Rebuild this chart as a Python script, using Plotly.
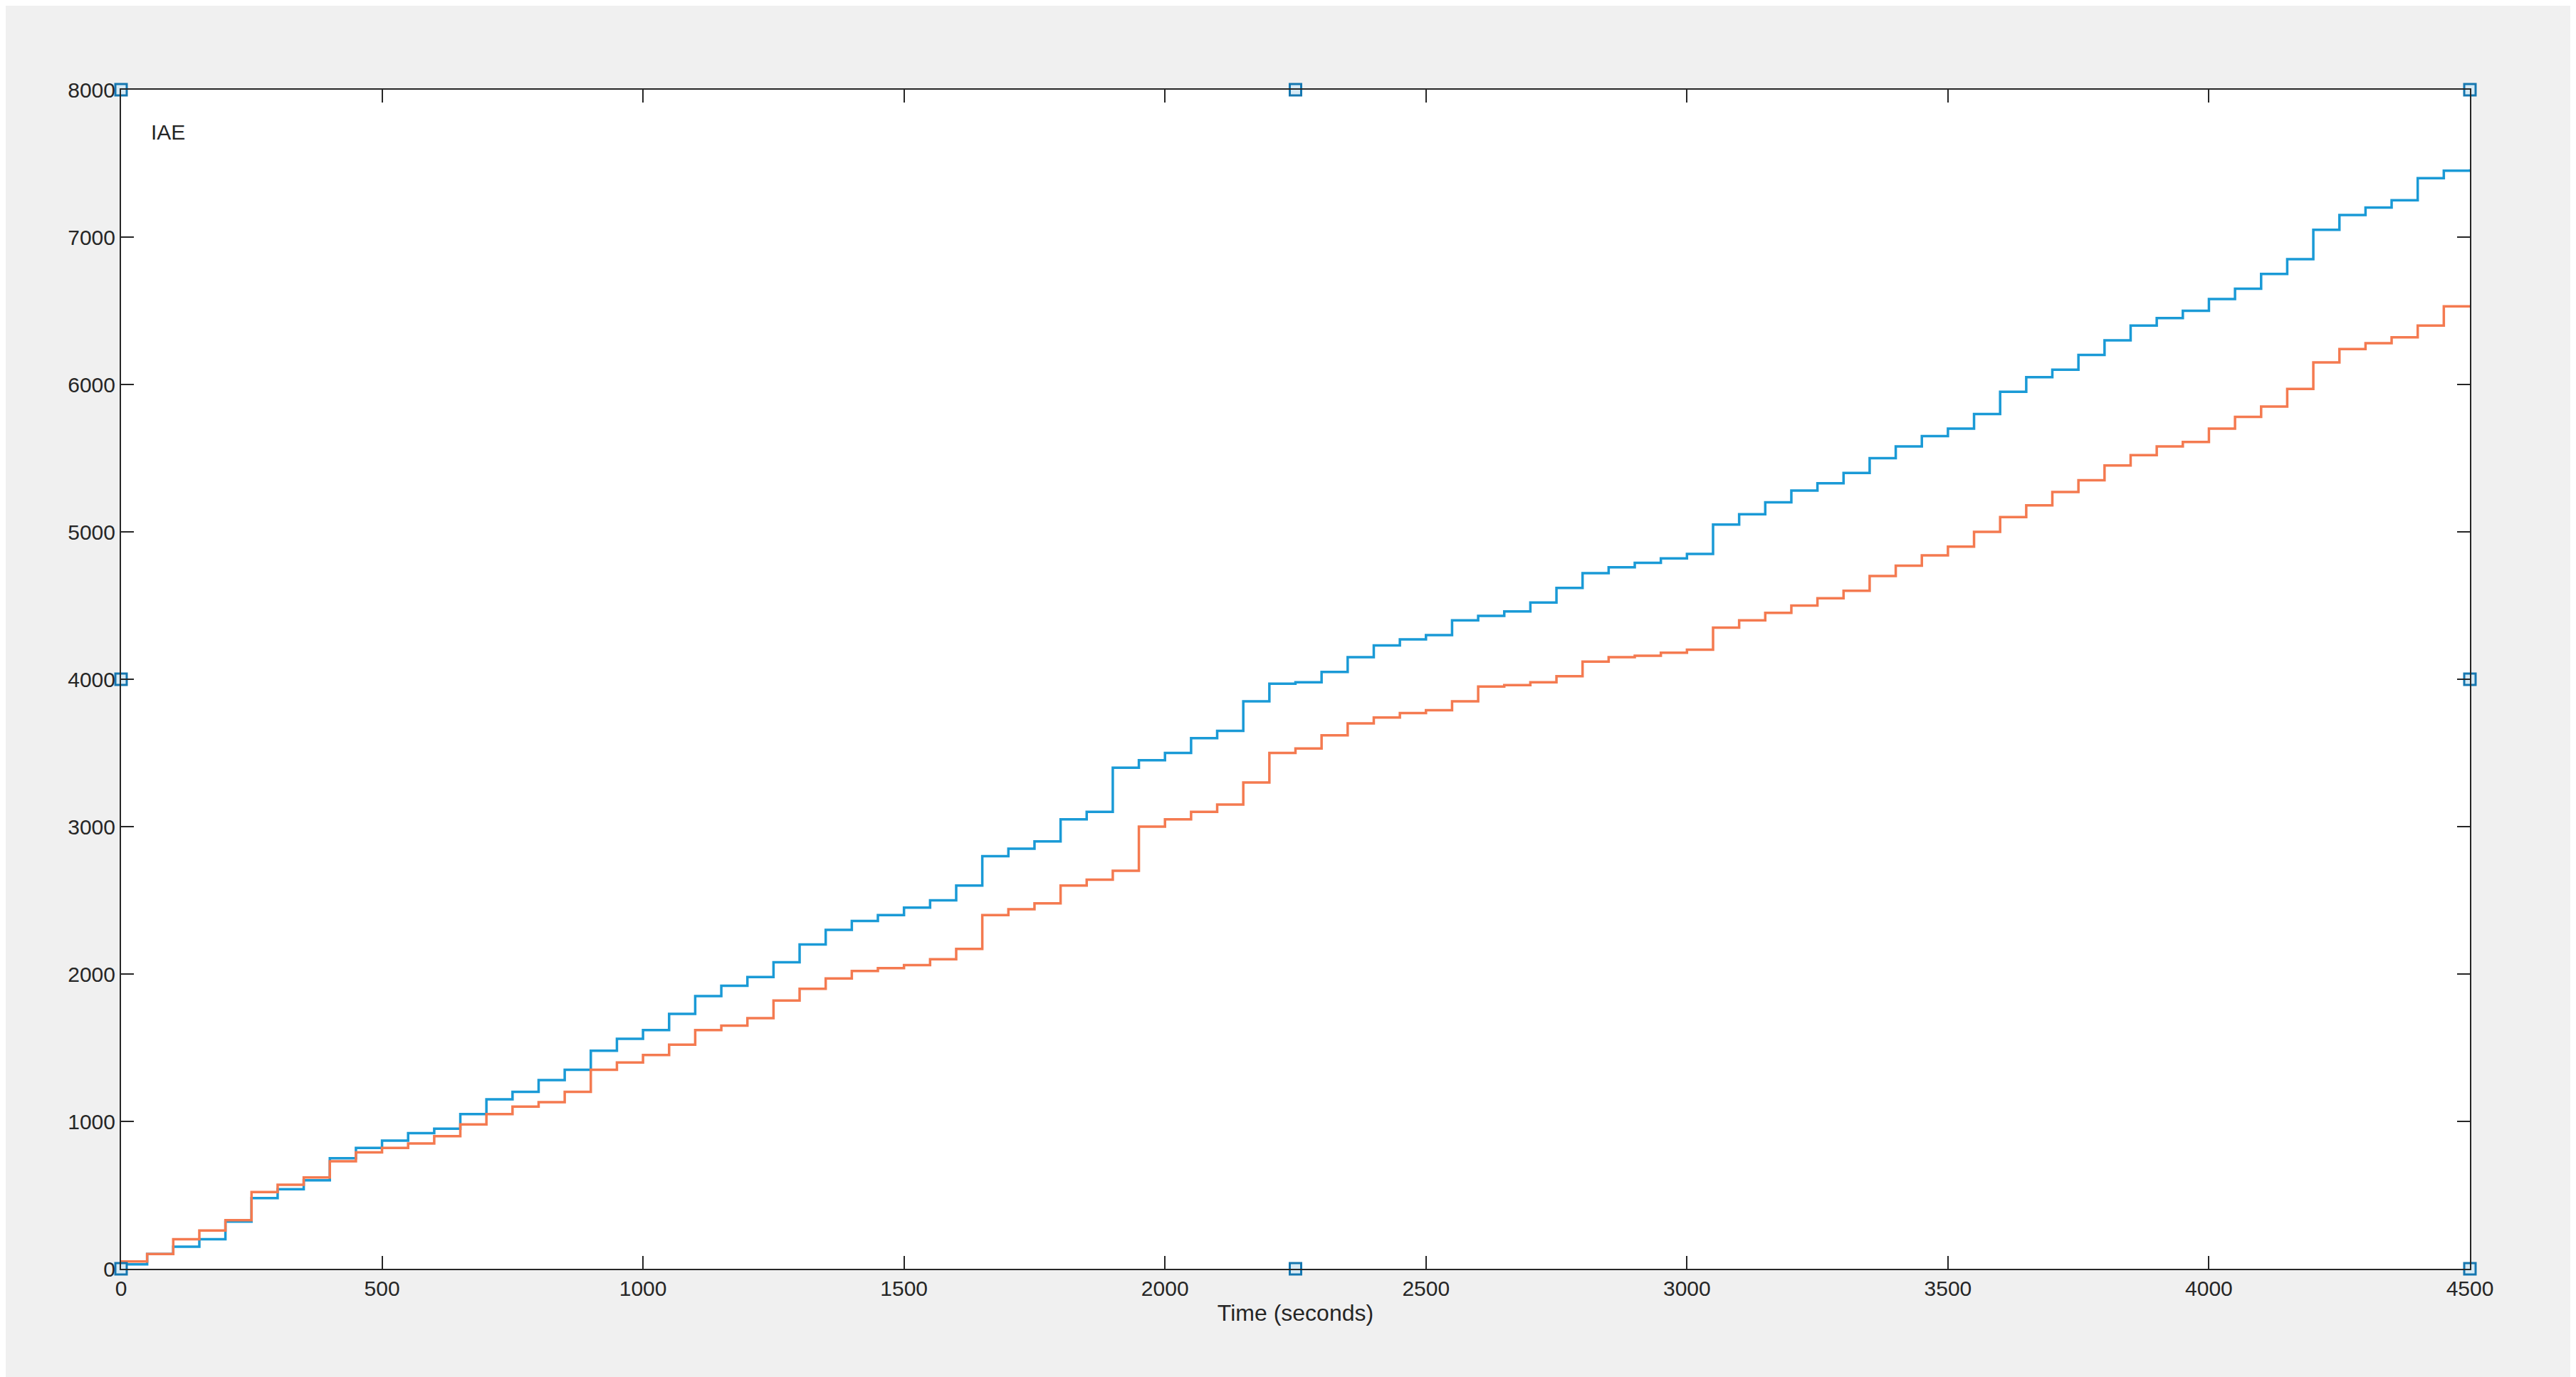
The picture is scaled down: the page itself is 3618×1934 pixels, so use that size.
import plotly.graph_objects as go

time = list(range(0, 4501, 50))

iae_blue = [30, 100, 150, 200, 320, 480, 540, 600, 750, 820,
            870, 920, 950, 1050, 1150, 1200, 1280, 1350, 1480, 1560,
            1620, 1730, 1850, 1920, 1980, 2080, 2200, 2300, 2360, 2400,
            2450, 2500, 2600, 2800, 2850, 2900, 3050, 3100, 3400, 3450,
            3500, 3600, 3650, 3850, 3970, 3980, 4050, 4150, 4230, 4270,
            4300, 4400, 4430, 4460, 4520, 4620, 4720, 4760, 4790, 4820,
            4850, 5050, 5120, 5200, 5280, 5330, 5400, 5500, 5580, 5650,
            5700, 5800, 5950, 6050, 6100, 6200, 6300, 6400, 6450, 6500,
            6580, 6650, 6750, 6850, 7050, 7150, 7200, 7250, 7400, 7450, 7460]

iae_orange = [50, 100, 200, 260, 330, 520, 570, 620, 730, 790,
              820, 850, 900, 980, 1050, 1100, 1130, 1200, 1350, 1400,
              1450, 1520, 1620, 1650, 1700, 1820, 1900, 1970, 2020, 2040,
              2060, 2100, 2170, 2400, 2440, 2480, 2600, 2640, 2700, 3000,
              3050, 3100, 3150, 3300, 3500, 3530, 3620, 3700, 3740, 3770,
              3790, 3850, 3950, 3960, 3980, 4020, 4120, 4150, 4160, 4180,
              4200, 4350, 4400, 4450, 4500, 4550, 4600, 4700, 4770, 4840,
              4900, 5000, 5100, 5180, 5270, 5350, 5450, 5520, 5580, 5610,
              5700, 5780, 5850, 5970, 6150, 6240, 6280, 6320, 6400, 6530, 6530]

# selection handles drawn on the axes box
handle_x = [0, 0, 0, 2250, 4500, 4500, 4500, 2250]
handle_y = [0, 4000, 8000, 8000, 8000, 4000, 0, 0]

fig = go.Figure()
fig.add_trace(go.Scatter(x=time, y=iae_blue, mode='lines', line_shape='hv',
                         line=dict(color='#1A9AD6', width=3.5)))
fig.add_trace(go.Scatter(x=time, y=iae_orange, mode='lines', line_shape='hv',
                         line=dict(color='#F47A50', width=3.5)))
fig.add_trace(go.Scatter(x=handle_x, y=handle_y, mode='markers', cliponaxis=False,
                         marker=dict(symbol='square', size=16, color='#D6EAF5',
                                     line=dict(color='#1577B0', width=3))))

fig.add_annotation(x=0.012, y=0.975, xref='paper', yref='paper', text='IAE',
                   showarrow=False, xanchor='left', yanchor='top',
                   font=dict(size=30, color='#262626'))

axis_style = dict(showgrid=False, zeroline=False, showline=True, linecolor='#262626',
                  linewidth=2, mirror='allticks', ticks='inside', ticklen=18,
                  tickwidth=2, tickcolor='#262626',
                  tickfont=dict(size=30, color='#262626'))

fig.update_xaxes(range=[0, 4500], dtick=500, title_text='Time (seconds)',
                 title_font=dict(size=32, color='#262626'), title_standoff=8,
                 **axis_style)
fig.update_yaxes(range=[0, 8000], dtick=1000, **axis_style)

fig.update_layout(
    width=3618, height=1934,
    paper_bgcolor='#F0F0F0', plot_bgcolor='white',
    showlegend=False,
    font=dict(family='Liberation Sans, Arial, sans-serif'),
    margin=dict(l=162, r=157, t=118, b=160),
)

fig.write_html("out.html")
